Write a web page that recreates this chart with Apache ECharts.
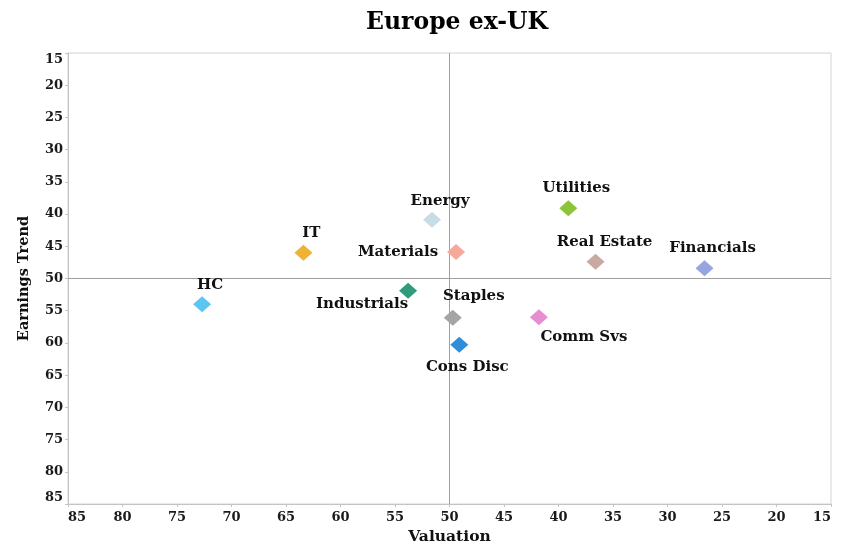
<!DOCTYPE html>
<html>
<head>
<meta charset="utf-8">
<script src="https://cdn.jsdelivr.net/npm/echarts@6/dist/echarts.min.js"></script>
<style>
html,body{margin:0;padding:0;background:#fff;}
#chart{width:844px;height:545px;}
</style>
</head>
<body>
<div id="chart"></div>
<script>
// ---- data ----
var sectors   = ['HC','IT','Energy','Materials','Utilities','Real Estate','Financials','Industrials','Staples','Comm Svs','Cons Disc'];
var valuation = [72.7, 63.4, 51.6, 49.4, 39.1, 36.6, 26.6, 53.8, 49.7, 41.8, 49.1];
var earnings  = [54.0, 46.0, 40.9, 45.9, 39.1, 47.4, 48.4, 51.9, 56.1, 56.0, 60.3];
var axisTicks = [15, 20, 25, 30, 35, 40, 45, 50, 55, 60, 65, 70, 75, 80, 85];

// ---- styles (not data) ----
var colors = ['#5cc6f2','#f0b232','#c8dce8','#f6a99b','#8cc43c','#c9aaa2','#96a5e0','#2f9a7c','#a5a5a5','#e78dd2','#2f8ed9'];
var labelOffsets = [[8,-19],[8,-20],[8,-19],[-58,0],[8,-20],[9,-20],[8,-20],[-46,13],[21,-22],[45,20],[8,22]];

var FONT = '"DejaVu Serif", serif';
var chart = echarts.init(document.getElementById('chart'));

var data = sectors.map(function (n, i) {
  return {
    name: n,
    value: [valuation[i], earnings[i]],
    itemStyle: { color: colors[i], opacity: 1 },
    label: { offset: labelOffsets[i] }
  };
});

var axisCommon = {
  type: 'value',
  min: axisTicks[0],
  max: axisTicks[axisTicks.length - 1],
  interval: 5,
  inverse: true,
  axisLine: { show: true, lineStyle: { color: '#c4c4c4', width: 1 } },
  axisTick: { show: true, length: 3, lineStyle: { color: '#c4c4c4' } },
  splitLine: { show: false }
};

chart.setOption({
  animation: false,
  backgroundColor: '#ffffff',
  title: {
    text: 'Europe ex-UK',
    left: 452,
    textAlign: 'center',
    top: 6,
    textStyle: { fontFamily: FONT, fontWeight: 'bold', fontSize: 23.5, color: '#000' }
  },
  grid: {
    left: 68, right: 13, top: 53, bottom: 41,
    outerBoundsMode: 'none',
    containLabel: false,
    show: true, borderColor: '#d4d4d4', borderWidth: 1, backgroundColor: 'transparent'
  },
  xAxis: Object.assign({}, axisCommon, {
    name: 'Valuation',
    nameLocation: 'middle',
    nameGap: 23,
    nameTextStyle: { fontFamily: FONT, fontWeight: 'bold', fontSize: 15.5, color: '#111' },
    axisLabel: {
      fontFamily: FONT, fontWeight: 'bold', fontSize: 13, color: '#1a1a1a', margin: 7,
      alignMinLabel: 'right', alignMaxLabel: 'left'
    }
  }),
  yAxis: Object.assign({}, axisCommon, {
    name: 'Earnings Trend',
    nameLocation: 'middle',
    nameGap: 36,
    nameTextStyle: { fontFamily: FONT, fontWeight: 'bold', fontSize: 14.5, color: '#111' },
    axisLabel: {
      fontFamily: FONT, fontWeight: 'bold', fontSize: 13, color: '#1a1a1a', margin: 5,
      verticalAlignMinLabel: 'top', verticalAlignMaxLabel: 'bottom'
    }
  }),
  series: [{
    type: 'scatter',
    symbol: 'diamond',
    symbolSize: [18, 16],
    data: data,
    itemStyle: { opacity: 1 },
    label: {
      show: true,
      position: 'inside',
      formatter: '{b}',
      fontFamily: FONT, fontWeight: 'bold', fontSize: 15, color: '#111',
      opacity: 1, textBorderWidth: 0
    },
    markLine: {
      silent: true,
      symbol: 'none',
      label: { show: false },
      lineStyle: { color: '#a0a0a0', width: 1, type: 'solid', opacity: 1 },
      data: [{ xAxis: 50 }, { yAxis: 50 }],
      z: 1
    },
    z: 3
  }]
});
</script>
</body>
</html>
